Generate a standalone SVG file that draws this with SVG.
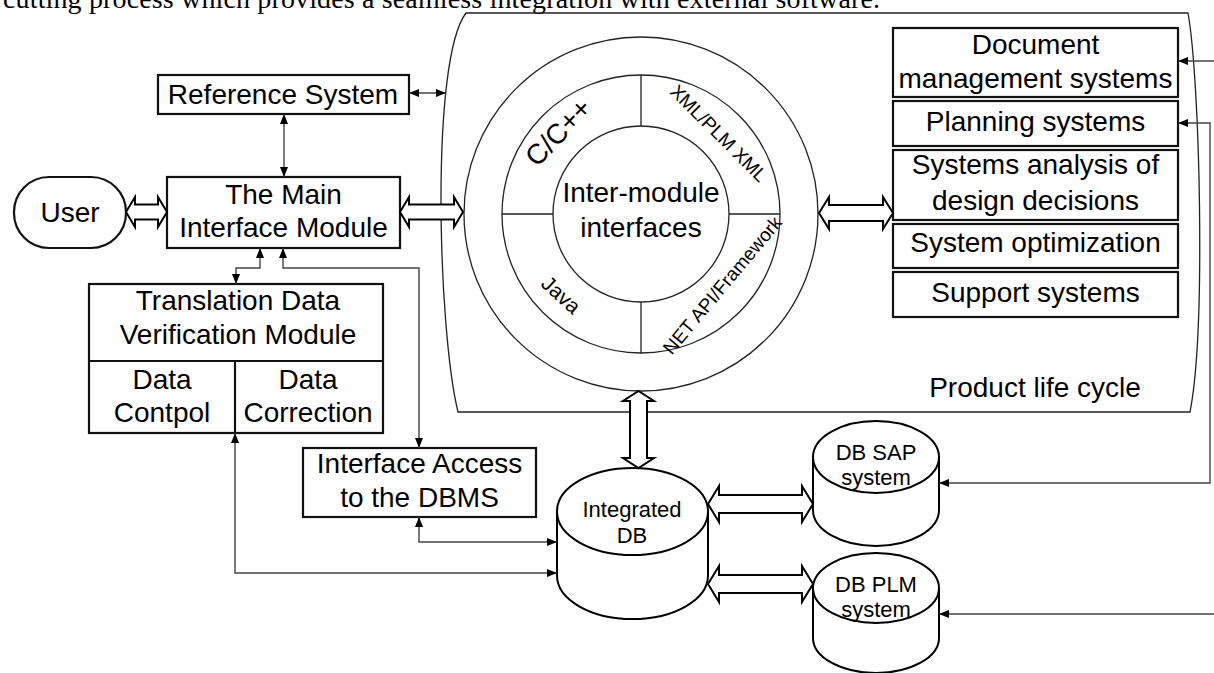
<svg xmlns="http://www.w3.org/2000/svg" width="1214" height="673" viewBox="0 0 1214 673">
<style>
text{font-family:"Liberation Sans",Arial,sans-serif;fill:#000;}
.t27{font-size:28px;text-anchor:middle;}
.t22{font-size:22px;text-anchor:middle;}
.box{fill:#fff;stroke:#111;stroke-width:2.2;}
.thin{fill:none;stroke:#222;stroke-width:1.3;}
.hollow{fill:#fff;stroke:#000;stroke-width:2;stroke-linejoin:miter;}
.conn{fill:none;stroke:#444;stroke-width:1.4;marker-end:url(#ah);}
.both{marker-start:url(#ah);}
.cyl{fill:#fff;stroke:#000;stroke-width:2;}
</style>
<defs>
<marker id="ah" markerUnits="userSpaceOnUse" markerWidth="10" markerHeight="8" refX="10" refY="4" orient="auto-start-reverse">
<path d="M0,0 L10,4 L0,8 Z" fill="#000"/>
</marker>
</defs>
<rect width="1214" height="673" fill="#fff"/>

<text x="3" y="8" font-family="'Liberation Serif','Times New Roman',serif" style="font-family:'Liberation Serif','Times New Roman',serif" font-size="28" textLength="877" lengthAdjust="spacing">cutting process which provides a seamless integration with external software.</text>

<g id="lifecycle-frame">
<path class="thin" d="M466,13 L1188,13 C1200,80 1206,330 1190,412 L458,412 C438,330 430,60 466,13 Z"/>
<text class="t27" x="1035" y="397">Product life cycle</text>
</g>

<g id="inter-module">
<circle class="thin" cx="641" cy="214" r="177" fill="#fff"/>
<circle class="thin" cx="641" cy="214" r="139"/>
<circle class="thin" cx="641" cy="214" r="88"/>
<path class="thin" d="M641,75 L641,126 M641,302 L641,353 M502,214 L553,214 M729,214 L780,214"/>
<text class="t27" x="641" y="202">Inter-module</text>
<text class="t27" x="641" y="237">interfaces</text>
<text transform="translate(558,132) rotate(-46)" font-size="28" text-anchor="middle" y="10">C/C++</text>
<text transform="translate(719,133) rotate(45)" font-size="19" text-anchor="middle" y="7">XML/PLM XML</text>
<text transform="translate(561,295) rotate(42)" font-size="21" text-anchor="middle" y="7">Java</text>
<text transform="translate(722,285) rotate(-50)" font-size="19" text-anchor="middle" y="7">NET API/Framework</text>
</g>

<g id="reference-system">
<rect class="box" x="158" y="75" width="251" height="39"/>
<text class="t27" x="283" y="104">Reference System</text>
</g>

<g id="user">
<rect class="box" x="14" y="177" width="112" height="71" rx="35" ry="35"/>
<text class="t27" x="70" y="222">User</text>
</g>

<g id="main-interface">
<rect class="box" x="167" y="177" width="233" height="71"/>
<text class="t27" x="283.5" y="204">The Main</text>
<text class="t27" x="283.5" y="237">Interface Module</text>
</g>

<g id="translation-module">
<rect class="box" x="89" y="284" width="294" height="149"/>
<path class="box" d="M89,361 L383,361 M235,361 L235,433"/>
<text class="t27" x="238" y="310">Translation Data</text>
<text class="t27" x="238" y="344">Verification Module</text>
<text class="t27" x="162" y="389">Data</text>
<text class="t27" x="162" y="422">Contpol</text>
<text class="t27" x="308" y="389">Data</text>
<text class="t27" x="308" y="422">Correction</text>
</g>

<g id="interface-access">
<rect class="box" x="303" y="448" width="233" height="69"/>
<text class="t27" x="419.5" y="473">Interface Access</text>
<text class="t27" x="419.5" y="507">to the DBMS</text>
</g>

<g id="document-management">
<rect class="box" x="893" y="28" width="285" height="69"/>
<text class="t27" x="1035.5" y="54">Document</text>
<text class="t27" x="1035.5" y="88">management systems</text>
</g>
<g id="planning-systems">
<rect class="box" x="893" y="101" width="285" height="45"/>
<text class="t27" x="1035.5" y="131">Planning systems</text>
</g>
<g id="systems-analysis">
<rect class="box" x="893" y="150" width="285" height="70"/>
<text class="t27" x="1035.5" y="174">Systems analysis of</text>
<text class="t27" x="1035.5" y="210">design decisions</text>
</g>
<g id="system-optimization">
<rect class="box" x="893" y="224" width="285" height="44"/>
<text class="t27" x="1035.5" y="252">System optimization</text>
</g>
<g id="support-systems">
<rect class="box" x="893" y="272" width="285" height="45"/>
<text class="t27" x="1035.5" y="302">Support systems</text>
</g>

<g id="integrated-db">
<path class="cyl" d="M557,511.5 A75.5,43.5 0 0 1 708,511.5 L708,575.5 A75.5,43.5 0 0 1 557,575.5 Z M557,511.5 A75.5,43.5 0 0 0 708,511.5"/>
<text class="t22" x="632" y="517">Integrated</text>
<text class="t22" x="632" y="543">DB</text>
</g>
<g id="db-sap">
<path class="cyl" d="M813,457 A63,36 0 0 1 939,457 L939,510 A63,36 0 0 1 813,510 Z M813,457 A63,36 0 0 0 939,457"/>
<text class="t22" x="876" y="460">DB SAP</text>
<text class="t22" x="876" y="485">system</text>
</g>
<g id="db-plm">
<path class="cyl" d="M813,588 A63,35 0 0 1 939,588 L939,638 A63,35 0 0 1 813,638 Z M813,588 A63,35 0 0 0 939,588"/>
<text class="t22" x="876" y="592">DB PLM</text>
<text class="t22" x="876" y="617">system</text>
</g>

<g id="connectors">
<path class="conn both" d="M284,114 L284,177"/>
<path class="conn both" d="M409,93 L446,93"/>
<path class="conn both" d="M260,248 L260,268 L236,268 L236,284"/>
<path class="conn both" d="M283,248 L283,268 L419,268 L419,448"/>
<path class="conn both" d="M419,517 L419,542 L557,542"/>
<path class="conn both" d="M235,433 L235,573 L557,573"/>
<path class="conn" d="M1214,61 L1178,61"/>
<path class="conn both" d="M1178,123 L1210,123 L1210,483 L939,483"/>
<path class="conn" d="M1214,614 L939,614"/>
<path class="hollow" d="M126,212 L135,197 L135,204.5 L158,204.5 L158,197 L167,212 L158,227 L158,219.5 L135,219.5 L135,227 Z"/>
<path class="hollow" d="M400,212 L409,197 L409,204.5 L454,204.5 L454,197 L463,212 L454,227 L454,219.5 L409,219.5 L409,227 Z"/>
<path class="hollow" d="M819,213 L829,197 L829,205 L883,205 L883,197 L893,213 L883,229 L883,221 L829,221 L829,229 Z"/>
<path class="hollow" d="M638.5,391 L654,401 L647,401 L647,458 L654,458 L638.5,468 L623,458 L630,458 L630,401 L623,401 Z"/>
<path class="hollow" d="M708,504 L719,486 L719,495 L802,495 L802,486 L813,504 L802,522 L802,513 L719,513 L719,522 Z"/>
<path class="hollow" d="M708,584 L719,566 L719,575 L802,575 L802,566 L813,584 L802,602 L802,593 L719,593 L719,602 Z"/>
</g>
</svg>
